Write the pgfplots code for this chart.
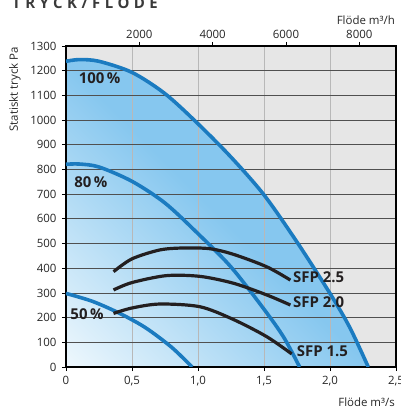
\documentclass[border=0pt]{standalone}
\usepackage{fontspec}
\setmainfont{Open Sans}
\newfontfamily\titlefont[LetterSpace=30]{Open Sans}
\usepackage{pgfplots}
\pgfplotsset{compat=1.18}
\definecolor{bgGray}{HTML}{E6E6E6}
\definecolor{curveBlue}{HTML}{1B7BC0}
\definecolor{fillBlue}{HTML}{86C7EF}
\definecolor{fillLight}{HTML}{EDF7FD}
\definecolor{gridDark}{HTML}{505050}
\definecolor{gridLight}{HTML}{B8B8B8}
\definecolor{sfpBlack}{HTML}{231F20}
\definecolor{titleGray}{HTML}{3A3A3A}
\pgfdeclarehorizontalshading{fanshade}{100bp}{color(0bp)=(fillLight); color(15bp)=(fillLight); color(50bp)=(fillBlue); color(100bp)=(fillBlue)}
\pgfplotstableread{
x y
0 1238
0.1 1245
0.25 1238
0.5 1193
0.75 1107
1.0 985
1.25 850
1.5 697
1.75 506
2.0 298
2.15 160
2.29 0
}\curveA
\pgfplotstableread{
x y
0 821
0.1 822
0.25 810
0.5 752
0.75 664
1.0 540
1.25 405
1.5 234
1.65 120
1.77 0
}\curveB
\pgfplotstableread{
x y
0 298
0.2 266
0.4 219
0.6 160
0.8 80
0.955 0
}\curveC
\pgfplotstableread{
x y
0.36 386
0.5 438
0.71 474
0.89 482
1.09 479
1.27 456
1.52 406
1.70 352
}\sfpA
\pgfplotstableread{
x y
0.36 312
0.5 342
0.76 370
1.015 367
1.27 339
1.52 292
1.70 251
}\sfpB
\pgfplotstableread{
x y
0.36 217
0.5 239
0.71 255
1.015 244
1.27 192
1.52 123
1.71 53
}\sfpC
\begin{document}
\begin{tikzpicture}
\useasboundingbox (-66bp,-41bp) rectangle (335bp,367bp);
\pgfplotsset{base/.style={at={(0bp,0bp)}, anchor=south west, scale only axis,
  width=330bp, height=321bp, xmin=0, xmax=2.5, ymin=0, ymax=1300,
  ticklabel style={font=\fontsize{11.5}{12}\selectfont, text=black!85},
  /pgf/number format/assume math mode=true, /pgf/number format/1000 sep={}}}
% background and fill
\begin{axis}[base, xtick=\empty, ytick=\empty, axis line style={draw=none},
  axis background/.style={fill=bgGray}]
\addplot[draw=none, shading=fanshade, shading angle=45, smooth] table {\curveA} \closedcycle;
\end{axis}
% grid, curves
\begin{axis}[base, grid=major,
  xtick={0,0.5,1,1.5,2,2.5}, xticklabels={0,{0,5},{1,0},{1,5},{2,0},{2,5}},
  ytick={0,100,...,1300},
  x grid style={gridLight, line width=0.8bp},
  y grid style={gridDark, line width=0.8bp},
  axis line style={line width=1.7bp, black},
  tick style={black, line width=0.8bp}, major tick length=4bp, tick align=outside,
  xtick pos=bottom, ytick pos=left,
  yticklabel style={xshift=-2bp}, xticklabel style={yshift=-2bp}]
\addplot[curveBlue, line width=3.6bp, smooth] table {\curveA};
\addplot[curveBlue, line width=3.6bp, smooth] table {\curveB};
\addplot[curveBlue, line width=3.6bp, smooth] table {\curveC};
\addplot[sfpBlack, line width=3.2bp, smooth] table {\sfpA};
\addplot[sfpBlack, line width=3.2bp, smooth] table {\sfpB};
\addplot[sfpBlack, line width=3.2bp, smooth] table {\sfpC};
\begin{scope}[every node/.style={font=\bfseries\fontsize{15}{15}\selectfont, text=sfpBlack, inner sep=0pt}]
\node at (axis cs:0.254,1170) {100\,\%};
\node at (axis cs:0.189,749) {80\,\%};
\node at (axis cs:0.159,213) {50\,\%};
\node[anchor=west] at (axis cs:1.72,365) {SFP 2.5};
\node[anchor=west] at (axis cs:1.72,263) {SFP 2.0};
\node[anchor=west] at (axis cs:1.748,63) {SFP 1.5};
\end{scope}
\end{axis}
% top axis m3/h
\begin{axis}[base, xmin=0, xmax=9000, axis x line*=top, hide y axis,
  xtick={2000,4000,6000,8000}, tick align=outside, major tick length=4bp,
  tick style={black, line width=0.8bp}, axis line style={draw=none}]
\end{axis}
\node[rotate=90, anchor=east, inner sep=0pt, font=\fontsize{11.5}{12}\selectfont, text=black!85] at (-51bp,320bp) {Statiskt tryck Pa};
\node[anchor=east, inner sep=0pt, font=\fontsize{11.5}{12}\selectfont, text=black!85] at (329bp,347bp) {Flöde m³/h};
\node[anchor=east, inner sep=0pt, font=\fontsize{11.5}{12}\selectfont, text=black!85] at (329bp,-35bp) {Flöde m³/s};
\node[anchor=base west, inner sep=0pt, font=\titlefont\bfseries\fontsize{15}{15}\selectfont, text=titleGray] at (-54bp,358bp) {TRYCK/FLODE};
\end{tikzpicture}
\end{document}
